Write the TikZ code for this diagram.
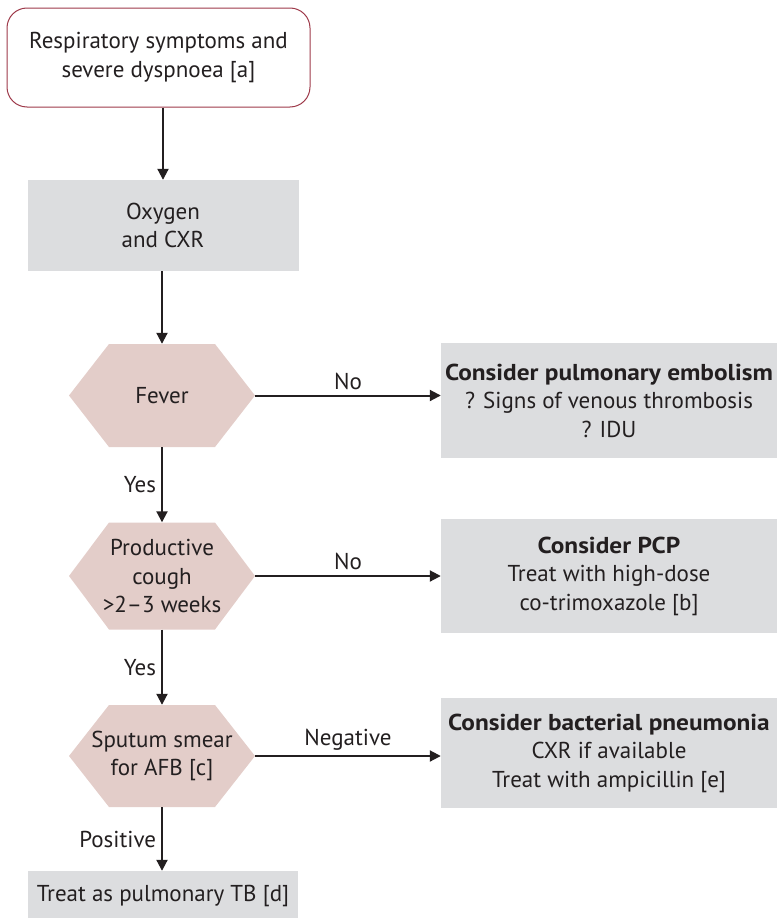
\documentclass[tikz,border=0pt]{standalone}
\usepackage{fontspec}
\setmainfont{PT Sans}
\newfontfamily\widebold{PT Sans}[FakeStretch=1.1]
\newcommand{\hdr}[1]{{\widebold\bfseries #1}}
\usetikzlibrary{arrows.meta}
\definecolor{txt}{HTML}{231F20}
\definecolor{boxgray}{HTML}{DCDDDF}
\definecolor{hexpink}{HTML}{E3CDC9}
\definecolor{redline}{HTML}{9E3A4A}
\begin{document}
\begin{tikzpicture}[x=1pt,y=-1pt,
  font=\fontsize{23}{28.5}\selectfont, text=txt,
  startbox/.style={draw=redline, line width=1pt, rounded corners=20pt, fill=white,
    align=center, inner sep=0pt, minimum width=303pt, minimum height=99pt},
  graybox/.style={fill=boxgray, align=center, inner sep=0pt},
  hexbox/.style={align=center, inner sep=0pt, minimum width=186pt,
    path picture={\fill[hexpink]
      (path picture bounding box.west)
      -- ([xshift=40pt]path picture bounding box.north west)
      -- ([xshift=-40pt]path picture bounding box.north east)
      -- (path picture bounding box.east)
      -- ([xshift=-40pt]path picture bounding box.south east)
      -- ([xshift=40pt]path picture bounding box.south west)
      -- cycle;}},
  arr/.style={draw=txt, line width=2pt, -{Triangle[length=11pt,width=11pt]}},
  lbl/.style={inner sep=5pt}]
\useasboundingbox (0,0) rectangle (777,918);

\node[startbox] (start) at (158.5,57.5) {Respiratory symptoms and\\severe dyspnoea [a]};
\node[graybox, minimum width=271pt, minimum height=91pt] (oxy) at (163,225.5) {Oxygen\\and CXR};
\node[hexbox, minimum height=103pt] (fever) at (162,395.5) {Fever};
\node[hexbox, minimum height=107pt] (cough) at (162,576) {Productive\\cough\\>2–3 weeks};
\node[hexbox, minimum height=102pt] (smear) at (162,756) {Sputum smear\\for AFB [c]};

\node[graybox, minimum width=336pt, minimum height=115pt] (pe) at (609,400.5)
  {\hdr{Consider pulmonary embolism}\\? Signs of venous thrombosis\\? IDU};
\node[graybox, minimum width=336pt, minimum height=114pt] (pcp) at (609,576)
  {\hdr{Consider PCP}\\Treat with high-dose\\co-trimoxazole [b]};
\node[graybox, minimum width=336pt, minimum height=110pt] (bact) at (609,753)
  {\hdr{Consider bacterial pneumonia}\\CXR if available\\Treat with ampicillin [e]};
\node[graybox, minimum width=270pt, minimum height=50pt] (tb) at (163,896)
  {Treat as pulmonary TB [d]};

\draw[arr] (start.south -| oxy.north) -- (oxy.north);
\draw[arr] (oxy.south -| fever.north) -- (fever.north);
\draw[arr] (fever.south) -- node[lbl, left] {Yes} (cough.north);
\draw[arr] (cough.south) -- node[lbl, left] {Yes} (smear.north);
\draw[arr] (smear.south) -- node[lbl, left] {Positive} (smear.south |- tb.north);

\draw[arr] (fever.east) -- node[lbl, above] {No} (pe.west |- fever.east);
\draw[arr] (cough.east) -- node[lbl, above] {No} (pcp.west |- cough.east);
\draw[arr] (smear.east) -- node[lbl, above] {Negative} (bact.west |- smear.east);
\end{tikzpicture}
\end{document}
